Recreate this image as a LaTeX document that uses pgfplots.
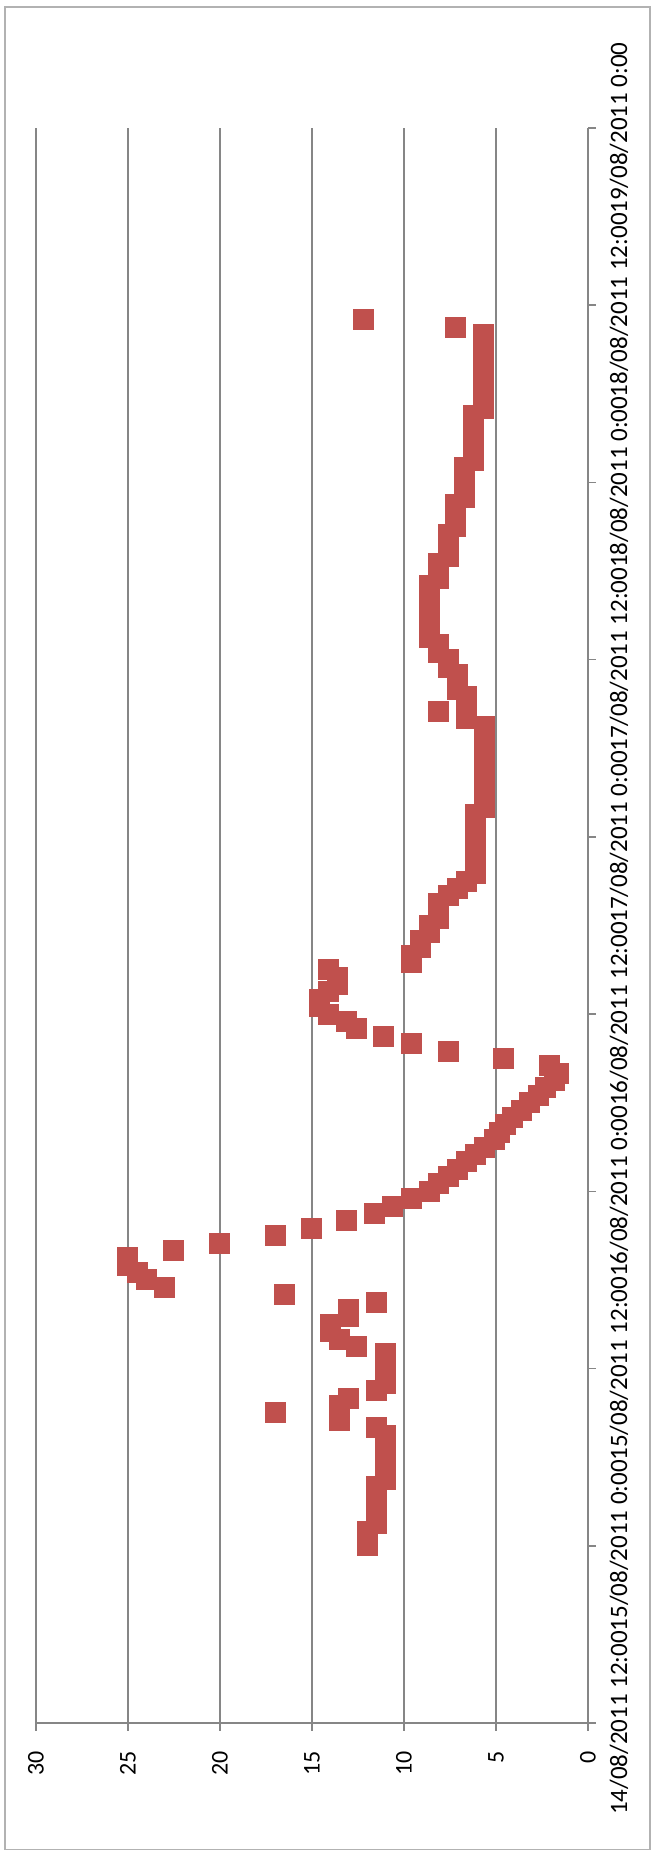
\documentclass[border=0pt]{standalone}
\usepackage{pgfplots}
\usepackage{pgfplotstable}
\pgfplotsset{compat=1.18}
\usepackage{fontspec}
\setmainfont{Carlito}
\definecolor{serred}{HTML}{C0504D}
\definecolor{gridgray}{HTML}{868686}
\pgfplotstableread{
h v
24.0 12.0
24.5 12.0
25.0 12.0
25.5 11.5
26.0 11.5
26.5 11.5
27.0 11.5
27.5 11.5
28.0 11.5
28.5 11.0
29.0 11.0
29.5 11.0
30.0 11.0
30.5 11.0
31.0 11.0
31.5 11.0
32.0 11.5
32.5 13.5
33.0 17.0
33.5 13.5
34.0 13.0
34.5 11.5
35.0 11.0
35.5 11.0
36.0 11.0
36.5 11.0
37.0 11.0
37.5 12.6
38.0 13.5
38.5 14.0
39.0 14.0
39.5 13.0
40.0 13.0
40.5 11.5
41.0 16.5
41.5 23.0
42.0 24.0
42.5 24.5
43.0 25.0
43.5 25.0
44.0 22.5
44.5 20.0
45.0 17.0
45.5 15.0
46.0 13.1
46.5 11.6
47.0 10.6
47.5 9.6
48.0 8.6
48.5 8.1
49.0 7.6
49.5 7.1
50.0 6.6
50.5 6.1
51.0 5.6
51.5 5.1
52.0 4.8
52.5 4.5
53.0 4.1
53.5 3.6
54.0 3.2
54.5 2.7
55.0 2.3
55.5 1.8
56.0 1.6
56.5 2.1
57.0 4.6
57.5 7.6
58.0 9.6
58.5 11.1
59.0 12.6
59.5 13.1
60.0 14.1
60.5 14.6
61.0 14.6
61.5 14.1
62.0 13.6
62.5 13.6
63.0 14.1
63.5 9.6
64.0 9.6
64.5 9.1
65.0 9.1
65.5 8.6
66.0 8.6
66.5 8.1
67.0 8.1
67.5 8.1
68.0 7.6
68.5 7.1
69.0 6.6
69.5 6.1
70.0 6.1
70.5 6.1
71.0 6.1
71.5 6.1
72.0 6.1
72.5 6.1
73.0 6.1
73.5 6.1
74.0 5.6
74.5 5.6
75.0 5.6
75.5 5.6
76.0 5.6
76.5 5.6
77.0 5.6
77.5 5.6
78.0 5.6
78.5 5.6
79.0 5.6
79.5 5.6
80.0 6.6
80.5 8.1
81.0 6.6
81.5 6.6
82.0 7.1
82.5 7.1
83.0 7.1
83.5 7.6
84.0 7.6
84.5 8.1
85.0 8.1
85.5 8.6
86.0 8.6
86.5 8.6
87.0 8.6
87.5 8.6
88.0 8.6
88.5 8.6
89.0 8.6
89.5 8.1
90.0 8.1
90.5 8.1
91.0 7.6
91.5 7.6
92.0 7.6
92.5 7.6
93.0 7.2
93.5 7.2
94.0 7.2
94.5 7.2
95.0 6.7
95.5 6.7
96.0 6.7
96.5 6.7
97.0 6.7
97.5 6.2
98.0 6.2
98.5 6.2
99.0 6.2
99.5 6.2
100.0 6.2
100.5 6.2
101.0 5.7
101.5 5.7
102.0 5.7
102.5 5.7
103.0 5.7
103.5 5.7
104.0 5.7
104.5 5.7
105.0 5.7
105.5 5.7
106.0 5.7
106.5 7.2
107.0 12.2
}\datatable
\begin{document}
\begin{tikzpicture}[x=1pt,y=1pt]
\path[use as bounding box] (0,0) rectangle (325.5,925.5);
\draw[black!30, line width=0.6pt] (2.5,0.7) rectangle (325,922);
\begin{axis}[
  at={(18pt,64pt)}, anchor=south west,
  scale only axis, width=276pt, height=797.5pt,
  xmin=0, xmax=30, x dir=reverse,
  ymin=12, ymax=120,
  axis x line*=bottom, axis y line*=right,
  xtick={0,5,...,30},
  ytick={12,24,...,120},
  yticklabels={14/08/2011 12:00,15/08/2011 0:00,15/08/2011 12:00,16/08/2011 0:00,16/08/2011 12:00,17/08/2011 0:00,17/08/2011 12:00,18/08/2011 0:00,18/08/2011 12:00,19/08/2011 0:00},
  xmajorgrids,
  major grid style={gridgray, line width=0.75pt},
  axis line style={gridgray, line width=0.75pt},
  tick style={gridgray, line width=0.75pt},
  tick align=inside, major tick length=-4pt,
  xticklabel shift=10.5pt,
  yticklabel shift=7.3pt,
  xticklabel style={rotate=90, anchor=east, font=\fontsize{12}{14}\selectfont},
  yticklabel style={rotate=90, anchor=north, font=\fontsize{12.5}{15}\selectfont},
  /pgf/number format/assume math mode=true,
]
\addplot[only marks, mark=square*, mark size=5pt, mark options={fill=serred, draw=serred, line width=0pt}] table[x=v, y=h] {\datatable};
\end{axis}
\end{tikzpicture}
\end{document}
